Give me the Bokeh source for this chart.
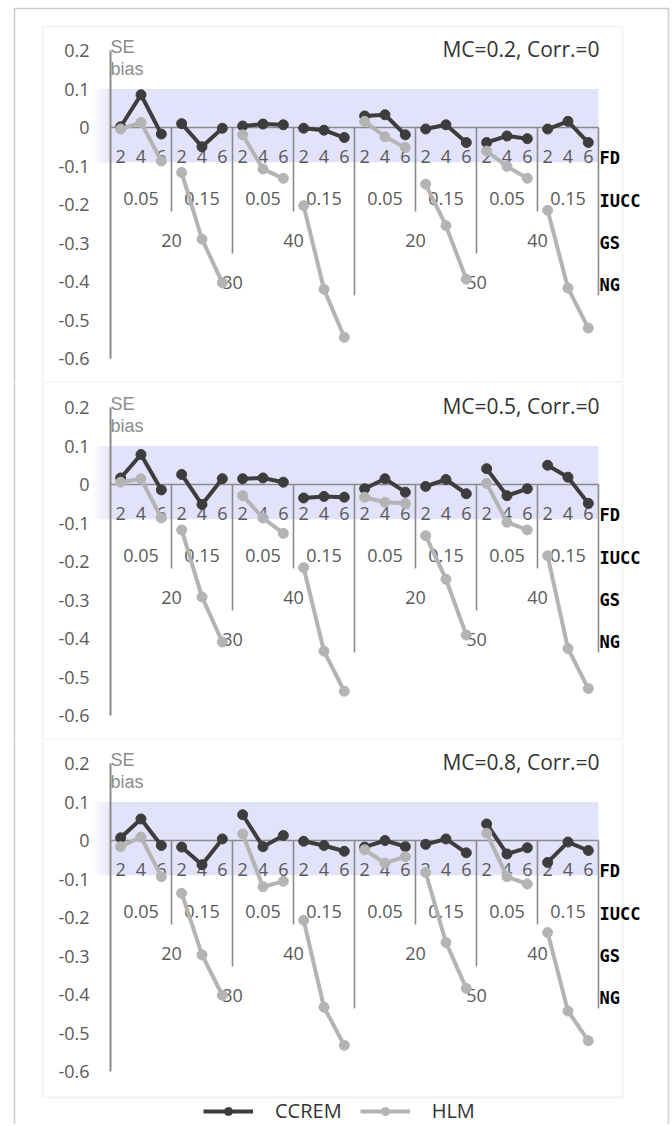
from bokeh.plotting import figure
from bokeh.models import (Range1d, FixedTicker, CustomJSTickFormatter, BoxAnnotation, Label,
                          Legend, LegendItem)
from bokeh.layouts import column
from bokeh.embed import file_html
from bokeh.resources import INLINE
from bokeh.core.properties import value

# ---------------- data ----------------
NG_LEVELS = [30, 50]
GS_LEVELS = [20, 40]
IUCC_LEVELS = ["0.05", "0.15"]
FD_LEVELS = ["2", "4", "6"]
LEVEL_NAMES = ["FD", "IUCC", "GS", "NG"]

Y_TICKS = [-0.6, -0.5, -0.4, -0.3, -0.2, -0.1, 0, 0.1, 0.2]
BAND = [-0.09, 0.1]

PANEL_TITLES = ["MC=0.2, Corr.=0", "MC=0.5, Corr.=0", "MC=0.8, Corr.=0"]
SERIES_NAMES = ["CCREM", "HLM"]

CCREM_MC02 = [0.002, 0.085, -0.017, 0.010, -0.050, -0.002, 0.004, 0.009, 0.007, -0.002, -0.007, -0.026,
              0.030, 0.033, -0.019, -0.004, 0.007, -0.039, -0.039, -0.022, -0.029, -0.004, 0.016, -0.039]
HLM_MC02 = [-0.004, 0.013, -0.087, -0.117, -0.290, -0.403, -0.019, -0.108, -0.132, -0.203, -0.420, -0.545,
            0.016, -0.024, -0.052, -0.147, -0.255, -0.394, -0.061, -0.101, -0.132, -0.215, -0.417, -0.521]

CCREM_MC05 = [0.017, 0.078, -0.014, 0.026, -0.052, 0.015, 0.015, 0.017, 0.006, -0.035, -0.031, -0.033,
              -0.011, 0.015, -0.020, -0.005, 0.013, -0.024, 0.041, -0.029, -0.011, 0.050, 0.019, -0.049]
HLM_MC05 = [0.006, 0.015, -0.087, -0.118, -0.292, -0.409, -0.029, -0.087, -0.127, -0.216, -0.433, -0.537,
            -0.033, -0.046, -0.049, -0.133, -0.246, -0.391, 0.003, -0.098, -0.118, -0.185, -0.426, -0.530]

CCREM_MC08 = [0.007, 0.056, -0.013, -0.017, -0.063, 0.004, 0.067, -0.016, 0.013, -0.002, -0.013, -0.028,
              -0.017, 0.000, -0.016, -0.010, 0.004, -0.032, 0.043, -0.035, -0.019, -0.057, -0.004, -0.026]
HLM_MC08 = [-0.016, 0.009, -0.094, -0.137, -0.297, -0.402, 0.017, -0.120, -0.106, -0.207, -0.433, -0.532,
            -0.024, -0.059, -0.042, -0.083, -0.265, -0.384, 0.019, -0.094, -0.113, -0.239, -0.443, -0.520]

# ---------------- style / layout ----------------
W = 672
AX_PX = 110            # pixel column of the y axis (category 0 edge)
PPX = 490 / 24.1       # pixels per category
PPY = 385.0            # pixels per 1.0 of SE bias
Y_MIN, Y_MAX = -0.6, 0.2

C_DARK = "#3d3d3d"
C_LIGHT = "#b4b4b4"
C_AXIS = "#8a8a8a"
C_TICK = "#595959"
C_BAND = "#e2e2fa"
FONT = "Open Sans"

CATS = [(ng, gs, iu, fd) for ng in NG_LEVELS for gs in GS_LEVELS for iu in IUCC_LEVELS for fd in FD_LEVELS]
NCAT = len(CATS)
XC = [i + 0.5 for i in range(NCAT)]
N_FD = len(FD_LEVELS)
N_IU = N_FD * len(IUCC_LEVELS)
N_GS = N_IU * len(GS_LEVELS)

ROW_Y = {"FD": -0.075, "IUCC": -0.185, "GS": -0.294, "NG": -0.403}
DEPTH = {"IUCC": -0.218, "GS": -0.327, "NG": -0.436}


def make_panel(title, ccrem, hlm, height, offset, zero, first=False, legend=False):
    def xd(px):
        return (px - AX_PX) / PPX

    def yd(py):
        return (zero - py) / PPY

    p = figure(width=W, height=height,
               x_range=Range1d(xd(0), xd(W)), y_range=Range1d(yd(offset + height), yd(offset)),
               min_border=0, min_border_left=0, min_border_right=0, min_border_top=0, min_border_bottom=0,
               toolbar_location=None, output_backend="svg", x_axis_location=None)
    p.grid.visible = False
    p.outline_line_color = None
    p.background_fill_color = "white"
    p.border_fill_color = "white"

    ax = p.yaxis[0]
    ax.fixed_location = 0
    ax.bounds = (Y_MIN, Y_MAX)
    ax.ticker = FixedTicker(ticks=Y_TICKS)
    ax.formatter = CustomJSTickFormatter(code="return Math.abs(tick) < 1e-9 ? '0' : tick.toFixed(1);")
    ax.major_tick_line_color = None
    ax.minor_tick_line_color = None
    ax.major_tick_out = 0
    ax.major_tick_in = 0
    ax.axis_line_color = C_AXIS
    ax.axis_line_width = 2
    ax.major_label_standoff = 21
    ax.major_label_text_font = FONT
    ax.major_label_text_font_size = "18px"
    ax.major_label_text_color = C_TICK

    # band with soft left edge
    p.add_layout(BoxAnnotation(left=0, right=NCAT, bottom=BAND[0], top=BAND[1], fill_color=C_BAND,
                               fill_alpha=1.0, line_color=None, level="underlay"))
    nstr = 6
    for k in range(nstr):
        p.add_layout(BoxAnnotation(left=xd(92 + 3 * k), right=xd(95 + 3 * k), bottom=BAND[0], top=BAND[1],
                                   fill_color=C_BAND, fill_alpha=(k + 1) / (nstr + 1), line_color=None,
                                   level="underlay"))

    # borders
    p.add_layout(BoxAnnotation(left=xd(14), right=xd(668), top=yd(8) if first else yd(offset - 20),
                               bottom=yd(offset + height + 20), fill_color=None, fill_alpha=0,
                               line_color="#5a5a5a", line_width=1.5, level="annotation"))
    ptop = yd(26) if first else yd(offset - 20)
    pbot = yd(1097) if legend else yd(offset + height - 1)
    p.add_layout(BoxAnnotation(left=xd(42), right=xd(622), top=ptop, bottom=pbot, fill_color=None,
                               fill_alpha=0, line_color="#d9d9d9", line_width=2, level="annotation"))

    # hierarchical category labels
    lx, ly, lt = [], [], []
    for i, c in enumerate(CATS):
        lx.append(XC[i]); ly.append(ROW_Y["FD"]); lt.append(str(c[3]))
    for g in range(NCAT // N_FD):
        lx.append(g * N_FD + N_FD / 2); ly.append(ROW_Y["IUCC"]); lt.append(str(CATS[g * N_FD][2]))
    for g in range(NCAT // N_IU):
        lx.append(g * N_IU + N_IU / 2); ly.append(ROW_Y["GS"]); lt.append(str(CATS[g * N_IU][1]))
    for g in range(NCAT // N_GS):
        lx.append(g * N_GS + N_GS / 2); ly.append(ROW_Y["NG"]); lt.append(str(CATS[g * N_GS][0]))
    p.text(x=lx, y=ly, text=lt, text_font=value(FONT), text_font_size="18px", text_color=C_TICK,
           text_align="center", text_baseline="middle")

    # category axis line and group separators
    sx0, sy0, sx1, sy1 = [0], [0], [NCAT], [0]
    for b in range(N_FD, NCAT + 1, N_FD):
        if b % N_GS == 0:
            d = DEPTH["NG"]
        elif b % N_IU == 0:
            d = DEPTH["GS"]
        else:
            d = DEPTH["IUCC"]
        sx0.append(b); sx1.append(b); sy0.append(0); sy1.append(d)
    p.segment(x0=sx0, y0=sy0, x1=sx1, y1=sy1, line_color=C_AXIS, line_width=1.6)

    for name in LEVEL_NAMES:
        p.add_layout(Label(x=NCAT, y=ROW_Y[name] - 0.005, x_offset=1, text=name, text_font="DejaVu Sans Mono",
                           text_font_style="bold", text_font_size="17px", text_color="black",
                           text_align="left", text_baseline="middle"))

    # series
    rends = []
    for vals, col in ((ccrem, C_DARK), (hlm, C_LIGHT)):
        xs = [XC[g * N_FD:(g + 1) * N_FD] for g in range(NCAT // N_FD)]
        ys = [vals[g * N_FD:(g + 1) * N_FD] for g in range(NCAT // N_FD)]
        lr = p.multi_line(xs=xs, ys=ys, line_color=col, line_width=4, line_join="round")
        sr = p.scatter(x=XC, y=vals, size=10, fill_color=col, line_color=col, marker="circle")
        rends.append((lr, sr))

    p.add_layout(Label(x=xd(599), y=Y_MAX + 2 / PPY, text=title, text_font=FONT, text_font_size="21px",
                       text_color="#333333", text_align="right", text_baseline="middle"))
    p.add_layout(Label(x=0, y=Y_MAX + 4 / PPY, text="SE", text_font="Liberation Sans", text_font_size="18px",
                       text_color="#8c8c8c", text_align="left", text_baseline="middle"))
    p.add_layout(Label(x=0, y=Y_MAX - 18 / PPY, text="bias", text_font="Liberation Sans", text_font_size="18px",
                       text_color="#8c8c8c", text_align="left", text_baseline="middle"))

    if legend:
        items = [LegendItem(label=SERIES_NAMES[k], renderers=list(rends[k])) for k in range(2)]
        lg = Legend(items=items, location=(203, 0), orientation="horizontal", glyph_width=50, glyph_height=20,
                    label_height=20, label_standoff=22, spacing=18, padding=0, margin=0,
                    border_line_color=None, background_fill_alpha=0, label_text_font=FONT,
                    label_text_font_size="20px", label_text_color="#333333")
        p.add_layout(lg)
    return p


p1 = make_panel(PANEL_TITLES[0], CCREM_MC02, HLM_MC02, 383, 0, 127, first=True)
p2 = make_panel(PANEL_TITLES[1], CCREM_MC05, HLM_MC05, 357, 383, 484)
p3 = make_panel(PANEL_TITLES[2], CCREM_MC08, HLM_MC08, 384, 740, 840, legend=True)

layout = column(p1, p2, p3, spacing=0)
open("out.html", "w").write(file_html(layout, INLINE))
